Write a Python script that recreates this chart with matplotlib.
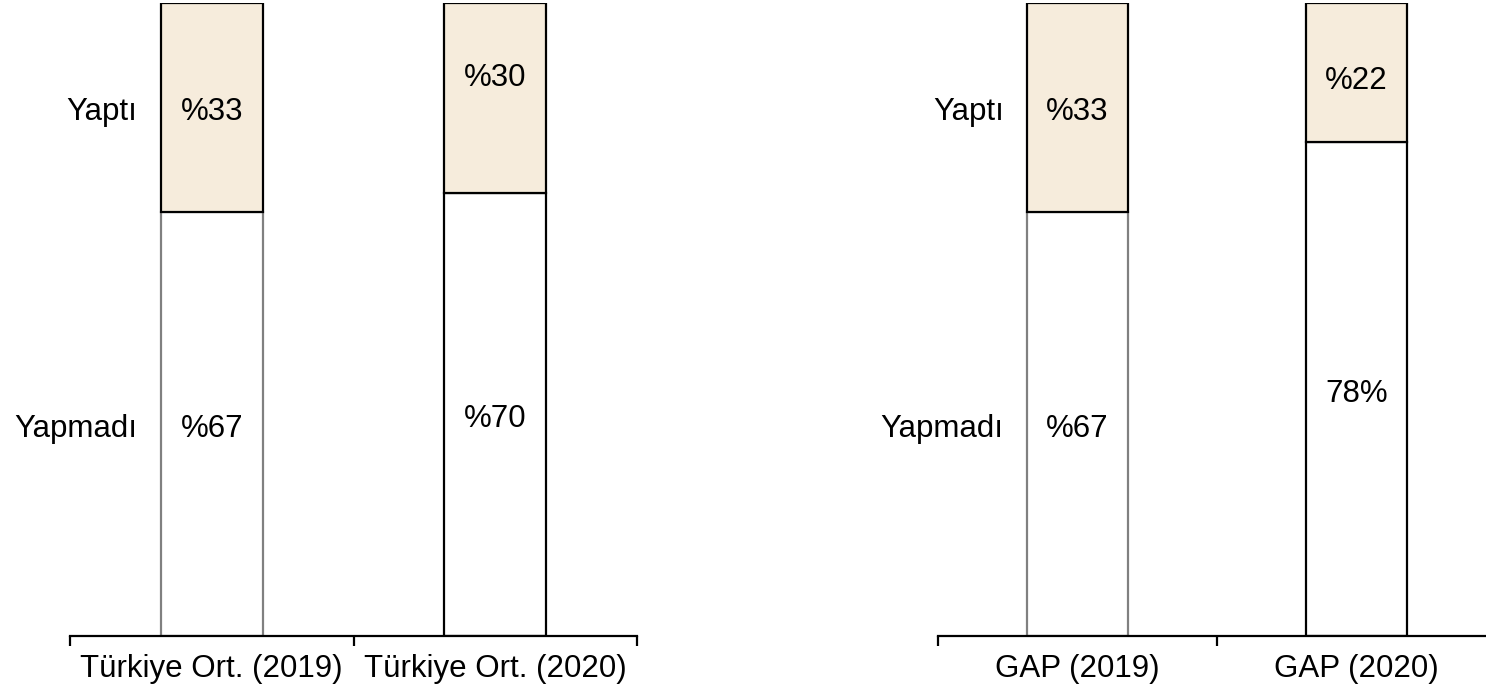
import matplotlib
matplotlib.use('Agg')
import matplotlib.pyplot as plt
import numpy as np

plt.rcParams['font.family'] = ['Liberation Sans', 'DejaVu Sans']

categories_left = ['Türkiye Ort. (2019)', 'Türkiye Ort. (2020)']
yapmadi_left = [67, 70]
yapti_left = [33, 30]
yapmadi_text_left = ['%67', '%70']
yapti_text_left = ['%33', '%30']

categories_right = ['GAP (2019)', 'GAP (2020)']
yapmadi_right = [67, 78]
yapti_right = [33, 22]
yapmadi_text_right = ['%67', '78%']
yapti_text_right = ['%33', '%22']

series_names = ['Yaptı', 'Yapmadı']

FS = 22.5
BEIGE = '#f6ecdc'
GRAY = '#808080'
DROP = -3.3  # text sits a little below the segment middle

figure = plt.figure(figsize=(14.86, 6.97), dpi=100)

bottom = (697 - 636) / 697
height = 633 / 697
ax_left = figure.add_axes([70 / 1486, bottom, 567 / 1486, height])
ax_right = figure.add_axes([938 / 1486, bottom, 558 / 1486, height])


def draw(ax, cats, low, high, low_text, high_text, nudge):
    x = np.arange(len(cats))
    low_edges = [GRAY, 'black']
    for i in x:
        ax.bar(i, low[i], width=0.36, color='white', edgecolor=low_edges[i],
               linewidth=1.6, zorder=2)
        ax.bar(i, high[i], width=0.36, bottom=low[i], color=BEIGE,
               edgecolor='black', linewidth=1.6, zorder=3)
        ax.annotate(low_text[i], (i, low[i] / 2), xytext=(0, DROP),
                    textcoords='offset points', ha='center', va='center',
                    fontsize=FS, zorder=4)
        ax.annotate(high_text[i], (i, low[i] + high[i] / 2 + nudge[i]),
                    xytext=(0, DROP), textcoords='offset points',
                    ha='center', va='center', fontsize=FS, zorder=4)

    # row names next to the first bar
    ax.annotate(series_names[0], (-0.18, low[0] + high[0] / 2),
                xytext=(-17, DROP), textcoords='offset points',
                ha='right', va='center', fontsize=FS)
    ax.annotate(series_names[1], (-0.18, low[0] / 2),
                xytext=(-17, DROP), textcoords='offset points',
                ha='right', va='center', fontsize=FS)

    ax.set_xlim(-0.5, len(cats) - 0.5)
    ax.set_ylim(0, 100)
    for side in ['left', 'right', 'top']:
        ax.spines[side].set_visible(False)
    ax.spines['bottom'].set_linewidth(1.6)
    ax.spines['bottom'].set_zorder(5)
    ax.set_yticks([])
    ax.set_xticks(np.arange(len(cats) + 1) - 0.5)
    ax.set_xticklabels([])
    ax.tick_params(axis='x', which='major', length=7.5, width=1.6,
                   direction='out')
    ax.set_xticks(x, minor=True)
    ax.set_xticklabels(cats, minor=True, fontsize=FS)
    ax.tick_params(axis='x', which='minor', length=0, pad=13)


draw(ax_left, categories_left, yapmadi_left, yapti_left,
     yapmadi_text_left, yapti_text_left, [0, 3.9])
draw(ax_right, categories_right, yapmadi_right, yapti_right,
     yapmadi_text_right, yapti_text_right, [0, -0.55])

figure.savefig('out.png', dpi=100)
